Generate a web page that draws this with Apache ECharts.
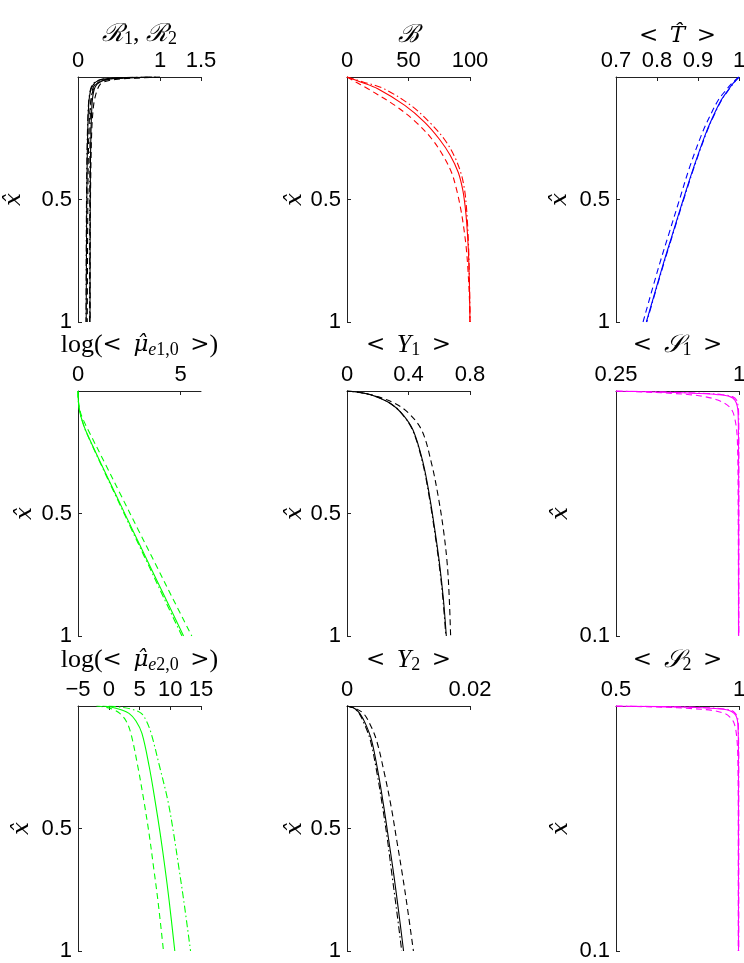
<!DOCTYPE html>
<html><head><meta charset="utf-8">
<script src="https://cdn.jsdelivr.net/npm/echarts@6/dist/echarts.min.js"></script>
<style>html,body{margin:0;padding:0;background:#fff}#c{width:744px;height:963px}</style>
</head><body><div id="c"></div>
<script>
// ---------- DATA ----------
// Panel 1: R1, R2 (black)
const rY       = [0, 0.003, 0.007, 0.013, 0.02, 0.03, 0.048, 0.08, 0.116, 0.2, 0.35, 0.6, 1.0];
const r1Solid  = [0.9, 0.55, 0.34, 0.26, 0.22, 0.19, 0.16, 0.14, 0.13, 0.12, 0.112, 0.105, 0.1];
const r1Dash   = [1.0, 0.7, 0.45, 0.32, 0.26, 0.22, 0.19, 0.165, 0.15, 0.135, 0.125, 0.118, 0.113];
const r1DDot   = [0.85, 0.5, 0.32, 0.25, 0.21, 0.18, 0.155, 0.137, 0.127, 0.117, 0.108, 0.102, 0.098];
const r2Solid  = [0.95, 0.65, 0.42, 0.32, 0.27, 0.23, 0.2, 0.18, 0.17, 0.16, 0.152, 0.148, 0.146];
const r2Dash   = [1.0, 0.8, 0.55, 0.4, 0.32, 0.27, 0.24, 0.21, 0.19, 0.17, 0.158, 0.15, 0.148];
const r2DDot   = [0.9, 0.6, 0.4, 0.3, 0.25, 0.21, 0.18, 0.165, 0.155, 0.148, 0.145, 0.143, 0.142];
const rTicks   = [0, 1, 1.5];

// Panel 2: B (red)
const bY       = [0, 0.02, 0.048, 0.116, 0.184, 0.253, 0.32, 0.39, 0.458, 0.526, 0.6, 0.7, 0.8, 0.9, 1.0];
const bSolid   = [0, 11, 25, 47, 63, 75, 84, 90.5, 94, 96, 97.4, 98.6, 99.3, 99.7, 100];
const bDash    = [0, 7, 17, 39, 56, 69, 78, 85, 89, 92, 94.5, 97, 98.5, 99.5, 100];
const bDDot    = [0, 13, 30, 52, 67, 79, 87, 92.5, 95.5, 97, 98, 98.9, 99.4, 99.8, 100];
const bTicks   = [0, 50, 100];

// Panel 3: <T> (blue)
const tY       = [0, 0.025, 0.052, 0.093, 0.16, 0.23, 0.366, 0.5, 0.64, 0.776, 1.0];
const tSolid   = [1.0, 0.986, 0.974, 0.957, 0.937, 0.919, 0.89, 0.864, 0.838, 0.813, 0.774];
const tDash    = [1.0, 0.983, 0.969, 0.95, 0.929, 0.91, 0.88, 0.855, 0.829, 0.804, 0.766];
const tDDot    = [1.0, 0.987, 0.975, 0.958, 0.938, 0.92, 0.891, 0.865, 0.839, 0.814, 0.775];
const tTicks   = [0.7, 0.8, 0.9, 1];

// Panel 4: log(<mu_e1,0>) (green)
const m1Y      = [0, 0.03, 0.06, 0.09, 0.12, 0.16, 0.296, 0.433, 0.57, 0.706, 0.843, 1.0];
const m1Solid  = [0, 0.01, 0.04, 0.1, 0.2, 0.37, 1.12, 1.9, 2.68, 3.46, 4.25, 5.15];
const m1Dash   = [0, 0.01, 0.05, 0.13, 0.27, 0.5, 1.32, 2.14, 2.96, 3.78, 4.6, 5.55];
const m1DDot   = [0, 0.01, 0.04, 0.1, 0.2, 0.36, 1.1, 1.87, 2.64, 3.41, 4.18, 5.07];
const m1Ticks  = [0, 5];

// Panel 5: <Y1> (black)
const y1Y      = [0, 0.004, 0.01, 0.023, 0.05, 0.09, 0.16, 0.296, 0.433, 0.57, 0.706, 0.843, 1.0];
const y1Solid  = [0, 0.06, 0.12, 0.19, 0.28, 0.355, 0.43, 0.496, 0.538, 0.572, 0.602, 0.626, 0.646];
const y1Dash   = [0, 0.06, 0.12, 0.2, 0.31, 0.4, 0.486, 0.55, 0.594, 0.628, 0.652, 0.665, 0.674];
const y1DDot   = [0, 0.06, 0.12, 0.19, 0.28, 0.353, 0.427, 0.493, 0.535, 0.569, 0.599, 0.623, 0.643];
const y1Ticks  = [0, 0.4, 0.8];

// Panel 6: <S1> (magenta)
const s1Y      = [0, 0.0005, 0.001, 0.0015, 0.0023, 0.0037, 0.0064, 0.01, 0.02, 0.05, 0.1];
const s1Solid  = [0.25, 0.55, 0.75, 0.87, 0.945, 0.975, 0.99, 0.995, 0.997, 0.998, 0.998];
const s1Dash   = [0.25, 0.45, 0.6, 0.7, 0.79, 0.87, 0.94, 0.97, 0.99, 0.995, 0.997];
const s1DDot   = [0.25, 0.6, 0.8, 0.9, 0.96, 0.985, 0.995, 0.998, 0.999, 0.999, 0.999];
const s1Ticks  = [0.25, 1];

// Panel 7: log(<mu_e2,0>) (green)
const m2Y      = [0, 0.005, 0.015, 0.03, 0.06, 0.112, 0.25, 0.385, 0.52, 0.66, 0.795, 1.0];
const m2Solid  = [-1, 0.5, 2.0, 3.3, 4.4, 5.4, 6.6, 7.52, 8.36, 9.14, 9.82, 10.74];
const m2Dash   = [-2, -0.5, 0.8, 1.8, 2.8, 3.6, 4.75, 5.7, 6.55, 7.3, 8.0, 8.9];
const m2DDot   = [0, 2.0, 4.0, 5.3, 6.1, 6.9, 8.3, 9.6, 10.55, 11.4, 12.2, 13.3];
const m2Ticks  = [-5, 0, 5, 10, 15];

// Panel 8: <Y2> (black)
const y2Y      = [0, 0.005, 0.011, 0.031, 0.072, 0.14, 0.277, 0.414, 0.55, 0.687, 0.82, 1.0];
const y2Solid  = [0, 0.0008, 0.0013, 0.0021, 0.003, 0.004, 0.0051, 0.006, 0.0068, 0.0076, 0.0083, 0.0092];
const y2Dash   = [0, 0.0008, 0.0015, 0.0027, 0.0037, 0.0048, 0.0061, 0.0072, 0.0081, 0.009, 0.0098, 0.0108];
const y2DDot   = [0, 0.0008, 0.0013, 0.002, 0.0028, 0.0038, 0.0049, 0.0058, 0.0066, 0.0073, 0.008, 0.0089];
const y2Ticks  = [0, 0.02];

// Panel 9: <S2> (magenta)
const s2Y      = [0, 0.0005, 0.001, 0.0018, 0.003, 0.0045, 0.007, 0.012, 0.02, 0.05, 0.1];
const s2Solid  = [0.5, 0.8, 0.9, 0.96, 0.98, 0.99, 0.995, 0.997, 0.998, 0.998, 0.998];
const s2Dash   = [0.5, 0.7, 0.8, 0.89, 0.94, 0.963, 0.98, 0.99, 0.995, 0.997, 0.997];
const s2DDot   = [0.5, 0.82, 0.92, 0.97, 0.985, 0.993, 0.997, 0.998, 0.999, 0.999, 0.999];
const s2Ticks  = [0.5, 1];

const yTicksFull  = [0.5, 1];
const yTicksShort = [0.1];

// ---------- STYLE / LAYOUT ----------
const SOLID = 'solid', DASH = [6, 4], DDOT = [7, 3, 1.5, 3];
const SERIF = '"Liberation Serif","DejaVu Serif",serif';
const DSERIF = '"DejaVu Serif","Liberation Serif",serif';
const SANS = '"Liberation Sans",Arial,sans-serif';
const rich = {
  m: {fontFamily: SERIF, fontSize: 26, color: '#000'},
  r: {fontFamily: DSERIF, fontSize: 23, color: '#000'},
  i: {fontFamily: SERIF, fontSize: 26, fontStyle: 'italic', color: '#000'},
  h: {fontFamily: DSERIF, fontSize: 23, fontStyle: 'italic', color: '#000'},
  c: {fontFamily: SERIF, fontSize: 25, fontStyle: 'italic', color: '#000'},
  s: {fontFamily: SERIF, fontSize: 18, color: '#000', padding: [10, 0, 0, 0]},
  si: {fontFamily: SERIF, fontSize: 18, fontStyle: 'italic', color: '#000', padding: [10, 0, 0, 0]}
};
const SP = '\u2002';

const colX = [78, 347, 616];
const rowY = [77, 391, 706];
const rowGap = [29, 32, 32];
const W = 123, H = 245;

const panels = [
  {title: '{c|ℛ}{s|1}{m|, }{c|ℛ}{s|2}', xmin: 0, xmax: 1.5, ticks: rTicks, ymax: 1, yt: yTicksFull, gap: 52, color: '#000',
   y: rY, lines: [[r1Solid, SOLID], [r1Dash, DASH], [r1DDot, DDOT], [r2Solid, SOLID], [r2Dash, DASH], [r2DDot, DDOT]]},
  {title: '{c|ℬ}', xmin: 0, xmax: 100, ticks: bTicks, ymax: 1, yt: yTicksFull, gap: 40, color: '#ff0000',
   y: bY, lines: [[bSolid, SOLID], [bDash, DASH], [bDDot, DDOT]]},
  {title: `{r|<${SP}}{h|T̂}{r|${SP}>}`, xmin: 0.7, xmax: 1, ticks: tTicks, ymax: 1, yt: yTicksFull, gap: 44, color: '#0000ff',
   y: tY, lines: [[tSolid, SOLID], [tDash, DASH], [tDDot, DDOT]]},
  {title: `{m|log(}{r|<${SP}}{h|μ̂}{si|e}{s|1,0}{r|${SP}>}{m|)}`, xmin: 0, xmax: 6, ticks: m1Ticks, ymax: 1, yt: yTicksFull, gap: 41, color: '#00ff00',
   y: m1Y, lines: [[m1Solid, SOLID], [m1Dash, DASH], [m1DDot, DDOT]]},
  {title: `{r|<${SP}}{i|Y}{s|1}{r|${SP}>}`, xmin: 0, xmax: 0.8, ticks: y1Ticks, ymax: 1, yt: yTicksFull, gap: 40, color: '#000',
   y: y1Y, lines: [[y1Solid, SOLID], [y1Dash, DASH], [y1DDot, DDOT]]},
  {title: `{r|<${SP}}{c|𝒮}{s|1}{r|${SP}>}`, xmin: 0.25, xmax: 1, ticks: s1Ticks, ymax: 0.1, yt: yTicksShort, gap: 43, color: '#ff00ff',
   y: s1Y, lines: [[s1Solid, SOLID], [s1Dash, DASH], [s1DDot, DDOT]]},
  {title: `{m|log(}{r|<${SP}}{h|μ̂}{si|e}{s|2,0}{r|${SP}>}{m|)}`, xmin: -5, xmax: 15, ticks: m2Ticks, ymax: 1, yt: yTicksFull, gap: 44, color: '#00ff00',
   y: m2Y, lines: [[m2Solid, SOLID], [m2Dash, DASH], [m2DDot, DDOT]]},
  {title: `{r|<${SP}}{i|Y}{s|2}{r|${SP}>}`, xmin: 0, xmax: 0.02, ticks: y2Ticks, ymax: 1, yt: yTicksFull, gap: 40, color: '#000',
   y: y2Y, lines: [[y2Solid, SOLID], [y2Dash, DASH], [y2DDot, DDOT]]},
  {title: `{r|<${SP}}{c|𝒮}{s|2}{r|${SP}>}`, xmin: 0.5, xmax: 1, ticks: s2Ticks, ymax: 0.1, yt: yTicksShort, gap: 43, color: '#ff00ff',
   y: s2Y, lines: [[s2Solid, SOLID], [s2Dash, DASH], [s2DDot, DDOT]]}
];

const fmt = v => (v < 0 ? '\u2212' + Math.abs(v) : String(v));
const axisLine = {show: true, onZero: false, lineStyle: {color: '#222', width: 1}};

const grid = [], xAxis = [], yAxis = [], series = [];
panels.forEach((p, i) => {
  const r = Math.floor(i / 3), c = i % 3;
  grid.push({left: colX[c], top: rowY[r], width: W, height: H, containLabel: false, outerBoundsMode: 'none'});
  xAxis.push({
    type: 'value', gridIndex: i, position: 'top', min: p.xmin, max: p.xmax,
    name: p.title, nameLocation: 'middle', nameGap: rowGap[r], nameMoveOverlap: false,
    nameTextStyle: {rich: rich},
    axisLine: axisLine, splitLine: {show: false},
    axisTick: {show: true, inside: true, length: 4, customValues: p.ticks, lineStyle: {color: '#222'}},
    axisLabel: {show: true, customValues: p.ticks, formatter: fmt, margin: 5, color: '#000',
      fontFamily: SANS, fontSize: 22, hideOverlap: false, showMinLabel: true, showMaxLabel: true}
  });
  yAxis.push({
    type: 'value', gridIndex: i, inverse: true, min: 0, max: p.ymax,
    name: 'x̂', nameLocation: 'middle', nameGap: p.gap, nameRotate: 90, nameMoveOverlap: false,
    nameTextStyle: {fontFamily: DSERIF, fontStyle: 'italic', fontSize: 23, color: '#000'},
    axisLine: axisLine, splitLine: {show: false},
    axisTick: {show: true, inside: true, length: 4, customValues: p.yt, lineStyle: {color: '#222'}},
    axisLabel: {show: true, customValues: p.yt, margin: 6, color: '#000',
      fontFamily: SANS, fontSize: 22, showMinLabel: true, showMaxLabel: true}
  });
  p.lines.forEach(([vals, dash]) => {
    series.push({
      type: 'line', xAxisIndex: i, yAxisIndex: i,
      data: vals.map((v, k) => [v, p.y[k]]),
      showSymbol: false, symbol: 'none', smooth: 0.35,
      lineStyle: {color: p.color, width: 1.1, type: dash},
      animation: false, silent: true
    });
  });
});

const chart = echarts.init(document.getElementById('c'), null, {renderer: 'canvas'});
chart.setOption({animation: false, backgroundColor: '#fff', grid, xAxis, yAxis, series});
</script>
</body></html>
